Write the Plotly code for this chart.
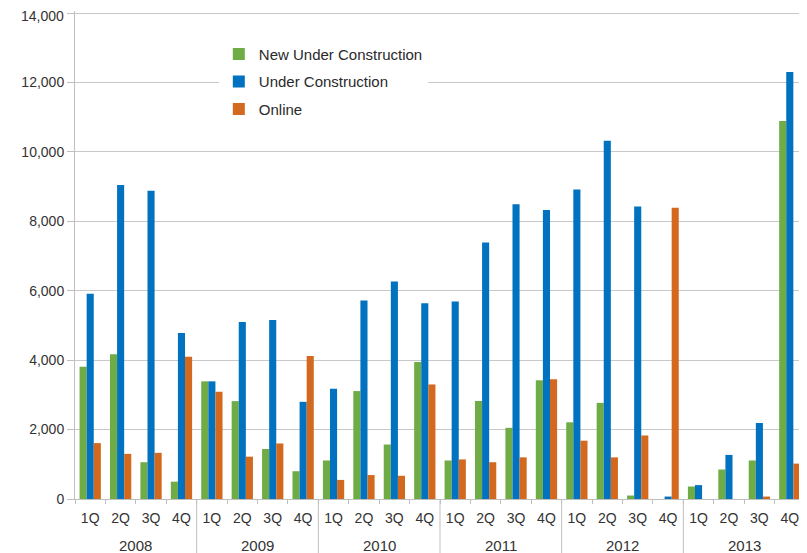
import plotly.graph_objects as go

years = ["2008", "2009", "2010", "2011", "2012", "2013"]
quarters = ["1Q", "2Q", "3Q", "4Q"]

new_under_construction = [3810, 4170, 1060, 500,
                          3390, 2820, 1440, 800,
                          1110, 3110, 1570, 3950,
                          1110, 2820, 2050, 3420,
                          2210, 2770, 100, 0,
                          360, 850, 1110, 10890]
under_construction = [5910, 9050, 8880, 4780,
                      3390, 5100, 5160, 2800,
                      3180, 5720, 6270, 5640,
                      5690, 7390, 8490, 8330,
                      8920, 10320, 8430, 70,
                      400, 1270, 2190, 12300]
online = [1610, 1300, 1330, 4100,
          3090, 1220, 1600, 4120,
          550, 690, 670, 3300,
          1140, 1060, 1200, 3450,
          1680, 1200, 1830, 8390,
          0, 0, 70, 1020]

y_tick_values = [0, 2000, 4000, 6000, 8000, 10000, 12000, 14000]
y_tick_labels = ["0", "2,000", "4,000", "6,000", "8,000", "10,000", "12,000", "14,000"]

quarter_labels = [q for _ in years for q in quarters]
xpos = list(range(len(quarter_labels)))
nq = len(quarters)

FONT = "Liberation Sans, Arial, sans-serif"
GRAY = "#bfbfbf"
TXT = "#333333"

fig = go.Figure()
series = [
    ("New Under Construction", new_under_construction, "#6FAC46"),
    ("Under Construction", under_construction, "#0072BF"),
    ("Online", online, "#D3691F"),
]
for i, (name, vals, col) in enumerate(series):
    fig.add_trace(go.Bar(x=xpos, y=vals, name=name,
                         marker=dict(color=col, line=dict(width=0)),
                         legendgroup=f"g{i}"))

# year labels and year dividers below the category axis
for k, yr in enumerate(years):
    fig.add_annotation(x=k * nq + (nq - 1) / 2, xref="x", y=0, yref="paper",
                       yanchor="middle", yshift=-46, text=yr, showarrow=False,
                       font=dict(family=FONT, size=15, color=TXT))
    if k > 0:
        xb = k * nq - 0.5
        fig.add_shape(type="line", xref="x", yref="paper", x0=xb, x1=xb,
                      y0=0, y1=-0.12, line=dict(color=GRAY, width=1))

# the top tick label sits a little below its gridline so it stays inside the page
shown_ticktext = y_tick_labels[:-1] + [""]
fig.add_annotation(x=0, xref="paper", xanchor="right", xshift=-9,
                   y=y_tick_values[-1], yref="y", yanchor="middle", yshift=-3,
                   text=y_tick_labels[-1], showarrow=False,
                   font=dict(family=FONT, size=14, color=TXT))

fig.update_layout(
    width=799, height=545,
    margin=dict(l=67, r=2, t=3, b=54, autoexpand=False),
    paper_bgcolor="white", plot_bgcolor="white",
    barmode="group", bargap=0.3, bargroupgap=0,
    font=dict(family=FONT, size=14, color=TXT),
    legend=dict(x=0.197, y=0.945, xanchor="left", yanchor="top",
                bgcolor="white", font=dict(family=FONT, size=15, color="#2a2a2a"),
                traceorder="grouped", tracegroupgap=5),
    showlegend=True,
)
fig.update_xaxes(
    range=[-0.5, len(xpos) - 0.5],
    tickmode="array", tickvals=xpos, ticktext=quarter_labels,
    ticks="outside", ticklen=6, tickcolor="rgba(0,0,0,0)",
    minor=dict(tickmode="linear", tick0=-0.5, dtick=1, ticks="outside",
               ticklen=4, tickcolor=GRAY, showgrid=False),
    showline=True, linecolor=GRAY, linewidth=1,
    tickfont=dict(family=FONT, size=14, color=TXT),
    showgrid=False, zeroline=False, automargin=False,
)
fig.update_yaxes(
    range=[0, 14060], tickmode="array",
    tickvals=y_tick_values, ticktext=shown_ticktext,
    ticklabeloverflow="allow",
    showgrid=True, gridcolor="#c8c8c8", gridwidth=1,
    showline=True, linecolor=GRAY, linewidth=1,
    ticks="outside", ticklen=7, tickcolor=GRAY,
    zeroline=False, automargin=False,
    tickfont=dict(family=FONT, size=14, color=TXT),
)

fig.write_html("out.html")
